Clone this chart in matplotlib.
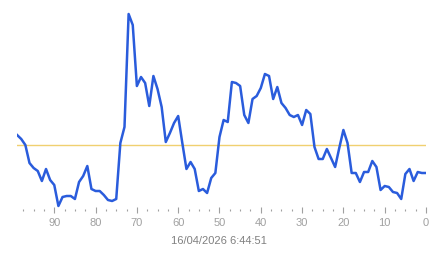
import matplotlib
matplotlib.use("Agg")
import matplotlib.pyplot as plt
from matplotlib.ticker import MultipleLocator

# x positions: samples ago (99 .. 0)
ages = list(range(99, -1, -1))
# values (arbitrary units)
ypix = [135, 139, 145, 163, 168, 171, 181, 169, 180, 185,
        206, 197, 196, 196, 199, 182, 176, 166, 189, 191,
        191, 195, 200, 201, 199, 143, 127, 14, 25, 86,
        77, 83, 106, 76, 89, 107, 142, 133, 123, 116,
        143, 169, 162, 169, 191, 189, 193, 178, 173, 137,
        120, 122, 82, 83, 86, 115, 123, 99, 96, 88,
        74, 76, 99, 87, 103, 108, 115, 117, 115, 125,
        110, 114, 147, 159, 159, 149, 158, 167, 148, 130,
        143, 173, 173, 182, 172, 172, 161, 167, 190, 186,
        187, 192, 193, 199, 174, 169, 181, 172, 173, 173]
values = [210 - p for p in ypix]
ref_value = 210 - 145
date_label = "16/04/2026 6:44:51"

W, H = 443, 258
fig = plt.figure(figsize=(W / 100, H / 100), dpi=100)
left, right = 17.1, 426.0
top, bottom = 8.0, 210.0
ax = fig.add_axes([left / W, 1 - bottom / H, (right - left) / W, (bottom - top) / H])
ax.set_xlim(99, 0)
ax.set_ylim(0, 202)

ax.axhline(ref_value, color="#f0d070", lw=1.0, zorder=1)
ax.plot(ages, values, color="#2a5cdc", lw=1.8, zorder=2, solid_joinstyle="round")

for s in ax.spines.values():
    s.set_visible(False)
ax.set_yticks([])
ax.xaxis.set_major_locator(MultipleLocator(10))
ax.xaxis.set_minor_locator(MultipleLocator(2.5))
ax.tick_params(axis="x", which="major", direction="inout", length=4, width=0.8,
               color="#a0a0a0", labelcolor="#a0a0a0", labelsize=8, pad=3.5)
ax.tick_params(axis="x", which="minor", direction="inout", length=1.8, width=0.8,
               color="#a0a0a0")
for lab in ax.get_xticklabels():
    lab.set_fontfamily("Liberation Sans")

fig.text(219 / W, 1 - 241 / H, date_label, ha="center", va="center",
         fontsize=8, color="#808080", family="Liberation Sans")

fig.savefig("out.png", dpi=100, facecolor="white")
